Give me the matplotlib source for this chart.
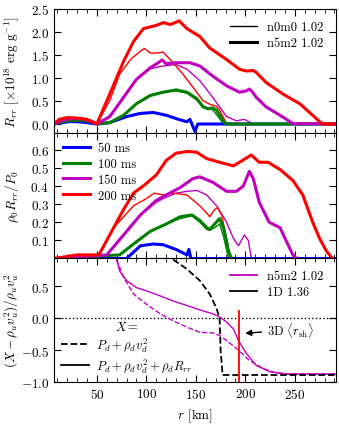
import numpy as np
import matplotlib
matplotlib.use("Agg")
from matplotlib import pyplot as plt
from matplotlib.lines import Line2D
from matplotlib.ticker import MultipleLocator, FormatStrFormatter

plt.rcParams["font.family"] = "serif"
plt.rcParams["font.serif"] = ["cmr10", "DejaVu Serif"]
plt.rcParams["mathtext.fontset"] = "cm"
plt.rcParams["axes.formatter.use_mathtext"] = True
plt.rcParams["font.size"] = 9.5

# ---- top panel: R_rr [1e18 erg/g] ----
r_blue_top = [6.6, 15, 22, 30, 40, 50, 63, 80, 94, 107, 120, 134, 141, 144, 146, 149, 152, 291]
v_blue_top = [0.0, 0.03, 0.05, 0.05, 0.03, 0.0, 0.03, 0.16, 0.23, 0.25, 0.19, 0.09, 0.05, 0.1, 0.0, -0.16, 0.0, 0.0]

r_green_top = [6.6, 15, 25, 35, 45, 50, 63, 77, 90, 104, 117, 130, 141, 151, 157, 162, 167, 171, 178, 181, 291]
v_green_top = [0.0, 0.05, 0.08, 0.08, 0.05, 0.0, 0.03, 0.19, 0.44, 0.62, 0.69, 0.74, 0.69, 0.55, 0.38, 0.33, 0.35, 0.3, 0.05, 0.0, 0.0]
v_green_top_thin = [0.0, 0.05, 0.08, 0.08, 0.05, 0.0, 0.04, 0.2, 0.45, 0.63, 0.7, 0.72, 0.67, 0.52, 0.36, 0.33, 0.31, 0.2, 0.0, 0.0, 0.0]

r_mag_top = [6.6, 15, 25, 35, 45, 50, 63, 77, 90, 104, 112, 116, 120, 130, 144, 154, 167, 181, 194, 201, 204, 207, 211, 221, 235, 248, 291]
v_mag_top = [0.0, 0.08, 0.12, 0.11, 0.06, 0.0, 0.16, 0.58, 0.97, 1.22, 1.33, 1.39, 1.31, 1.33, 1.33, 1.26, 1.04, 0.83, 0.69, 0.72, 0.76, 0.7, 0.58, 0.37, 0.19, 0.01, 0.0]
r_mag_top_thin = [6.6, 15, 25, 35, 45, 50, 63, 77, 90, 104, 117, 130, 141, 154, 167, 181, 191, 199, 208, 291]
v_mag_top_thin = [0.0, 0.08, 0.12, 0.11, 0.06, 0.0, 0.16, 0.58, 0.97, 1.2, 1.26, 1.29, 1.19, 0.94, 0.58, 0.16, 0.07, 0.1, 0.0, 0.0]

r_red_top = [6.6, 12, 20, 30, 40, 50, 63, 77, 87, 97, 110, 117, 124, 129, 133, 141, 154, 164, 181, 194, 201, 208, 211, 221, 238, 255, 268, 276, 280, 291]
v_red_top = [0.0, 0.1, 0.14, 0.13, 0.1, 0.0, 0.65, 1.36, 1.79, 2.07, 2.14, 2.2, 2.16, 2.2, 2.24, 2.07, 1.9, 1.65, 1.4, 1.19, 1.15, 1.16, 1.12, 0.9, 0.65, 0.44, 0.19, 0.03, 0.0, 0.0]
r_red_top_thin = [6.6, 12, 20, 30, 40, 50, 63, 73, 84, 94, 98, 104, 110, 117, 127, 137, 147, 157, 164, 171, 174, 181, 291]
v_red_top_thin = [0.0, 0.1, 0.14, 0.13, 0.1, 0.0, 0.51, 1.08, 1.4, 1.58, 1.64, 1.54, 1.54, 1.56, 1.33, 1.08, 0.8, 0.51, 0.43, 0.38, 0.3, 0.01, 0.0]

# ---- middle panel: rho0 R_rr / P0 ----
r_blue_mid = [6.6, 80, 94, 107, 117, 130, 141, 143, 145, 291]
v_blue_mid = [0.0, 0.0, 0.07, 0.08, 0.076, 0.05, 0.02, 0.05, 0.0, 0.0]

r_green_mid = [6.6, 73, 87, 104, 120, 134, 146, 154, 161, 164, 169, 174, 178, 183, 186]
v_green_mid = [0.0, 0.02, 0.08, 0.15, 0.19, 0.23, 0.24, 0.21, 0.17, 0.16, 0.19, 0.22, 0.17, 0.04, 0.0]
v_green_mid_thin = [0.0, 0.02, 0.08, 0.15, 0.19, 0.22, 0.235, 0.2, 0.16, 0.155, 0.17, 0.19, 0.12, 0.0, 0.0]

r_mag_mid = [6.6, 60, 77, 94, 110, 120, 134, 147, 154, 167, 181, 191, 198, 204, 208, 214, 224, 235, 241, 248, 252]
v_mag_mid = [0.0, 0.02, 0.13, 0.24, 0.32, 0.35, 0.39, 0.44, 0.45, 0.42, 0.37, 0.37, 0.4, 0.48, 0.44, 0.31, 0.2, 0.17, 0.1, 0.02, 0.0]
r_mag_mid_thin = [6.6, 60, 77, 94, 110, 117, 130, 141, 151, 161, 171, 181, 188, 193, 199, 203, 206]
v_mag_mid_thin = [0.0, 0.02, 0.13, 0.24, 0.31, 0.33, 0.36, 0.37, 0.375, 0.35, 0.29, 0.2, 0.11, 0.07, 0.13, 0.1, 0.0]

r_red_mid = [6.6, 30, 45, 52, 63, 77, 87, 97, 110, 120, 130, 142, 151, 161, 174, 188, 194, 206, 214, 223, 235, 248, 258, 268, 275, 282, 288]
v_red_mid = [0.0, 0.02, 0.02, 0.02, 0.13, 0.27, 0.36, 0.4, 0.46, 0.54, 0.58, 0.59, 0.585, 0.55, 0.53, 0.51, 0.53, 0.57, 0.53, 0.53, 0.49, 0.43, 0.35, 0.2, 0.11, 0.04, 0.0]
r_red_mid_thin = [6.6, 30, 45, 52, 67, 87, 100, 108, 117, 127, 141, 154, 161, 164, 169, 172, 176, 181, 185]
v_red_mid_thin = [0.0, 0.02, 0.02, 0.02, 0.17, 0.29, 0.33, 0.36, 0.35, 0.36, 0.35, 0.29, 0.25, 0.23, 0.27, 0.28, 0.24, 0.11, 0.0]

# ---- bottom panel: (X - rho_u v_u^2) / rho_u v_u^2 ----
r_mag_full = [70, 73, 80, 90, 100, 114, 127, 141, 154, 167, 174, 181, 188, 193, 201, 211, 225, 241, 291]
v_mag_full = [0.92, 0.74, 0.59, 0.48, 0.43, 0.35, 0.27, 0.2, 0.13, 0.07, 0.02, -0.06, -0.17, -0.35, -0.55, -0.74, -0.84, -0.875, -0.875]
r_mag_nor = [70, 77, 87, 100, 114, 127, 141, 154, 167, 174, 181, 193, 204, 218, 231, 245, 291]
v_mag_nor = [0.92, 0.64, 0.38, 0.22, 0.07, -0.04, -0.14, -0.22, -0.23, -0.27, -0.35, -0.5, -0.66, -0.79, -0.855, -0.875, -0.875]
r_1d = [127, 141, 154, 164, 171, 174, 175, 177, 291]
v_1d = [0.92, 0.77, 0.59, 0.38, 0.15, -0.01, -0.5, -0.89, -0.89]
r_shock_3d = 194

times = ["50 ms", "100 ms", "150 ms", "200 ms"]
colors = ["#0000ff", "#008000", "#bf00bf", "#ff0000"]

lw_thin = 1.0
lw_thick = 2.2

fig = plt.figure(figsize=(3.39, 4.27), dpi=100)
gs = fig.add_gridspec(3, 1, left=0.159, right=0.991, bottom=0.103, top=0.977, hspace=0)
ax1 = fig.add_subplot(gs[0])
ax2 = fig.add_subplot(gs[1], sharex=ax1)
ax3 = fig.add_subplot(gs[2], sharex=ax1)

# top
ax1.plot(r_blue_top, v_blue_top, color=colors[0], lw=lw_thin)
ax1.plot(r_green_top, v_green_top_thin, color=colors[1], lw=lw_thin)
ax1.plot(r_mag_top_thin, v_mag_top_thin, color=colors[2], lw=lw_thin)
ax1.plot(r_red_top_thin, v_red_top_thin, color=colors[3], lw=lw_thin)
ax1.plot(r_blue_top, v_blue_top, color=colors[0], lw=lw_thick)
ax1.plot(r_green_top, v_green_top, color=colors[1], lw=lw_thick)
ax1.plot(r_mag_top, v_mag_top, color=colors[2], lw=lw_thick)
ax1.plot(r_red_top, v_red_top, color=colors[3], lw=lw_thick)
ax1.set_ylim(-0.2, 2.5)
ax1.set_yticks([0.0, 0.5, 1.0, 1.5, 2.0, 2.5])
ax1.yaxis.set_major_formatter(FormatStrFormatter(r"$\mathdefault{%.1f}$"))
ax1.set_ylabel(r"$R_{rr}$ [$\times 10^{18}$ erg g$^{-1}$]")
h1 = [Line2D([], [], color="k", lw=lw_thin), Line2D([], [], color="k", lw=lw_thick)]
ax1.legend(h1, ["n0m0 1.02", "n5m2 1.02"], loc="upper right", frameon=False,
           fontsize=9, handlelength=2.2, borderaxespad=0.6, labelspacing=0.3)

# middle
ax2.plot(r_blue_mid, v_blue_mid, color=colors[0], lw=lw_thin)
ax2.plot(r_green_mid, v_green_mid_thin, color=colors[1], lw=lw_thin)
ax2.plot(r_mag_mid_thin, v_mag_mid_thin, color=colors[2], lw=lw_thin)
ax2.plot(r_red_mid_thin, v_red_mid_thin, color=colors[3], lw=lw_thin)
lines = []
for rr, vv, c in [(r_blue_mid, v_blue_mid, colors[0]), (r_green_mid, v_green_mid, colors[1]),
                  (r_mag_mid, v_mag_mid, colors[2]), (r_red_mid, v_red_mid, colors[3])]:
    ln, = ax2.plot(rr, vv, color=c, lw=lw_thick)
    lines.append(ln)
ax2.set_ylim(0.005, 0.69)
ax2.set_yticks([0.1, 0.2, 0.3, 0.4, 0.5, 0.6])
ax2.set_ylabel(r"$\rho_0 R_{rr}/P_0$")
ax2.legend(lines, times, loc="upper left", frameon=False, fontsize=9,
           handlelength=2.2, borderaxespad=0.3, labelspacing=0.3, handletextpad=0.6)

# bottom
ax3.axhline(0.0, color="k", ls=":", lw=1.0)
ax3.plot(r_mag_full, v_mag_full, color=colors[2], lw=lw_thin)
ax3.plot(r_mag_nor, v_mag_nor, color=colors[2], lw=lw_thin, ls="--")
ax3.plot(r_1d, v_1d, color="k", lw=1.3, ls="--")
ax3.axvline(r_shock_3d, ymax=(0.11 + 1.0) / 1.95, color=colors[3], lw=1.3)
ax3.annotate(r"3D $\langle r_{\rm sh}\rangle$", xy=(r_shock_3d + 3, -0.24), xytext=(222, -0.18),
             fontsize=9, va="center",
             arrowprops=dict(arrowstyle="-|>", color="k", lw=1.0, mutation_scale=9))
ax3.set_ylim(-1.0, 0.95)
ax3.set_yticks([-1.0, -0.5, 0.0, 0.5])
ax3.set_ylabel(r"$(X - \rho_u v_u^2)/\rho_u v_u^2$")
ax3.set_xlabel(r"$r$ [km]")
leg_a = ax3.legend([Line2D([], [], color=colors[2], lw=1.3), Line2D([], [], color="k", lw=1.3)],
                   ["n5m2 1.02", "1D 1.36"], loc="upper right", frameon=False, fontsize=9,
                   handlelength=2.2, borderaxespad=0.6, labelspacing=0.3)
ax3.add_artist(leg_a)
ax3.legend([Line2D([], [], color="k", lw=1.3, ls="--"), Line2D([], [], color="k", lw=1.3)],
           [r"$P_d + \rho_d v_d^2$", r"$P_d + \rho_d v_d^2 + \rho_d R_{rr}$"],
           loc="lower left", frameon=False, fontsize=9, handlelength=2.2,
           borderaxespad=0.2, labelspacing=0.2, handletextpad=0.6,
           title=r"$X =$", title_fontsize=9)

ax1.set_xlim(6.6, 291.5)
ax3.set_xticks([50, 100, 150, 200, 250])
for ax in (ax1, ax2, ax3):
    ax.xaxis.set_minor_locator(MultipleLocator(10))
    ax.tick_params(which="both", direction="in", top=True, right=True)
    ax.tick_params(which="major", length=5)
    ax.tick_params(which="minor", length=3)
    ax.yaxis.set_label_coords(-0.115, 0.5)
ax1.tick_params(labelbottom=False)
ax2.tick_params(labelbottom=False)

fig.savefig("out.png", dpi=100)
